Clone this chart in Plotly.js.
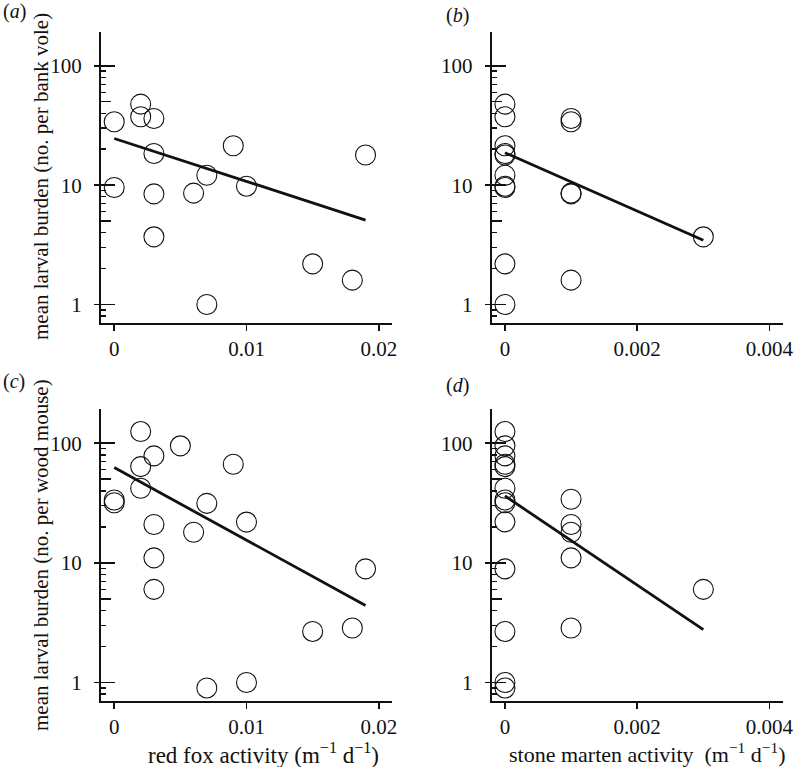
<!DOCTYPE html>
<html>
<head>
<meta charset="utf-8">
<script src="https://cdn.plot.ly/plotly-3.0.1.min.js"></script>
<style>html,body{margin:0;padding:0;background:#fff;}#chart{width:794px;height:767px;}</style>
</head>
<body>
<div id="chart"></div>
<script>
// ---- Data ----
// (a) bank vole burden vs red fox activity
const foxVoleX = [0, 0, 0.002, 0.002, 0.003, 0.003, 0.003, 0.003, 0.006, 0.007, 0.007, 0.009, 0.010, 0.015, 0.018, 0.019];
const foxVoleY = [34, 9.55, 47.7, 37.4, 36.2, 18.4, 8.45, 3.69, 8.57, 12.1, 1.0, 21.4, 9.8, 2.19, 1.6, 17.9];
const foxVoleFitX = [0, 0.019];
const foxVoleFitY = [24.6, 5.1];

// (b) bank vole burden vs stone marten activity
const martenVoleX = [0, 0, 0, 0, 0, 0, 0, 0, 0, 0, 0.001, 0.001, 0.001, 0.001, 0.001, 0.003];
const martenVoleY = [47.7, 37.4, 21.4, 18.4, 17.9, 12.1, 9.55, 9.8, 2.19, 1.0, 36.2, 34, 8.45, 8.57, 1.6, 3.69];
const martenVoleFitX = [0, 0.003];
const martenVoleFitY = [18.7, 3.46];

// (c) wood mouse burden vs red fox activity
const foxMouseX = [0, 0, 0.002, 0.002, 0.002, 0.003, 0.003, 0.003, 0.003, 0.005, 0.006, 0.007, 0.007, 0.009, 0.010, 0.010, 0.015, 0.018, 0.019];
const foxMouseY = [33.5, 31.8, 125, 63.7, 42, 78.3, 20.9, 11.0, 6.0, 95, 18, 31.4, 0.90, 66.7, 21.9, 1.0, 2.67, 2.85, 8.9];
const foxMouseFitX = [0, 0.019];
const foxMouseFitY = [62.5, 4.4];

// (d) wood mouse burden vs stone marten activity
const martenMouseX = [0, 0, 0, 0, 0, 0, 0, 0, 0, 0, 0, 0, 0, 0.001, 0.001, 0.001, 0.001, 0.001, 0.003];
const martenMouseY = [125, 95, 78.3, 66.7, 63.7, 42, 33.5, 31.8, 22, 8.9, 2.67, 1.0, 0.90, 34, 20.9, 18, 11.0, 2.85, 6.0];
const martenMouseFitX = [0, 0.003];
const martenMouseFitY = [36.2, 2.76];

// tick labels
const yTickVals = [1, 10, 100];
const yTickText = ['1', '10', '100'];
const yMinorVals = [0.8, 0.9, 2, 3, 4, 6, 7, 8, 9, 20, 30, 40, 60, 70, 80, 90];
const yMidVals = [5, 50];
const foxTickVals = [0, 0.01, 0.02];
const foxTickText = ['0', '0.01', '0.02'];
const martenTickVals = [0, 0.002, 0.004];
const martenTickText = ['0', '0.002', '0.004'];

const panelLabels = ['(<i>a</i>)', '(<i>b</i>)', '(<i>c</i>)', '(<i>d</i>)'];
const yTitles = ['mean larval burden (no. per bank vole)', 'mean larval burden (no. per wood mouse)'];
const xTitles = ['red fox activity (m<sup>\u22121</sup> d<sup>\u22121</sup>)', 'stone marten activity  (m<sup>\u22121</sup> d<sup>\u22121</sup>)'];

// ---- Styling ----
const FONT = 'Liberation Serif, Times New Roman, serif';
const W = 794, H = 767;
const px = v => v / W;
const py = v => 1 - v / H;

const xDomL = [px(101), px(392)];
const xDomR = [px(491.7), px(782.7)];
const yDomT = [py(323), py(32)];
const yDomB = [py(701), py(409.3)];
const yRange = [Math.log10(0.7), 2.283];
const foxRange = [-0.001, 0.021];
const martenRange = [-0.0002, 0.0042];

function pts(x, y, xa, ya) {
  return {x: x, y: y, xaxis: xa, yaxis: ya, type: 'scatter', mode: 'markers', hoverinfo: 'skip',
    marker: {symbol: 'circle', size: 20, color: 'rgba(0,0,0,0)', line: {color: '#111', width: 1.1}}};
}
function fit(x, y, xa, ya) {
  return {x: x, y: y, xaxis: xa, yaxis: ya, type: 'scatter', mode: 'lines', hoverinfo: 'skip',
    line: {color: '#111', width: 2.8}};
}
function dummy(xa, ya) {
  return {x: [], y: [], xaxis: xa, yaxis: ya, type: 'scatter', mode: 'markers', hoverinfo: 'skip', showlegend: false};
}

const data = [
  fit(foxVoleFitX, foxVoleFitY, 'x', 'y'), pts(foxVoleX, foxVoleY, 'x', 'y'),
  fit(martenVoleFitX, martenVoleFitY, 'x2', 'y2'), pts(martenVoleX, martenVoleY, 'x2', 'y2'),
  fit(foxMouseFitX, foxMouseFitY, 'x3', 'y3'), pts(foxMouseX, foxMouseY, 'x3', 'y3'),
  fit(martenMouseFitX, martenMouseFitY, 'x4', 'y4'), pts(martenMouseX, martenMouseY, 'x4', 'y4'),
  dummy('x', 'y5'), dummy('x2', 'y6'), dummy('x3', 'y7'), dummy('x4', 'y8')
];

function xAxis(dom, range, tv, tt, anchor) {
  return {domain: dom, range: range, anchor: anchor, showline: true, linewidth: 2, linecolor: '#111',
    showgrid: false, zeroline: false, ticks: 'outside', ticklen: 6, tickwidth: 1.5, tickcolor: '#111',
    tickmode: 'array', tickvals: tv, ticktext: tt, ticklabelstandoff: 0,
    tickfont: {family: FONT, size: 21, color: '#111'}, fixedrange: true};
}
function yAxis(dom, anchor) {
  return {domain: dom, type: 'log', range: yRange, anchor: anchor, showline: true, linewidth: 2, linecolor: '#111',
    showgrid: false, zeroline: false, ticks: 'inside', ticklen: 14, tickwidth: 1.5, tickcolor: '#111',
    tickmode: 'array', tickvals: yTickVals, ticktext: yTickText, ticklabelstandoff: 13,
    tickfont: {family: FONT, size: 21, color: '#111'},
    minor: {tickvals: yMinorVals, ticks: 'inside', ticklen: 5, tickwidth: 1.5, tickcolor: '#111', showgrid: false},
    fixedrange: true};
}
function yOver(over, anchor) {
  return {overlaying: over, anchor: anchor, type: 'log', range: yRange, showline: false, showgrid: false,
    zeroline: false, ticks: 'outside', ticklen: 6, tickwidth: 1.5, tickcolor: '#111',
    tickmode: 'array', tickvals: yTickVals, showticklabels: false,
    minor: {tickvals: yMidVals, ticks: 'inside', ticklen: 10, tickwidth: 1.5, tickcolor: '#111', showgrid: false},
    fixedrange: true};
}

const ann = [];
function addAnn(text, x, y, size, opts) {
  ann.push(Object.assign({text: text, x: x, y: y, xref: 'paper', yref: 'paper', showarrow: false,
    xanchor: 'center', yanchor: 'middle', font: {family: FONT, size: size, color: '#111'}}, opts || {}));
}
addAnn(panelLabels[0], px(1), py(12), 20, {xanchor: 'left'});
addAnn(panelLabels[1], px(444), py(15), 20, {xanchor: 'left'});
addAnn(panelLabels[2], px(1), py(381), 20, {xanchor: 'left'});
addAnn(panelLabels[3], px(444), py(385), 20, {xanchor: 'left'});
addAnn(yTitles[0], px(41), py(177), 21, {textangle: -90});
addAnn(yTitles[1], px(41), py(555), 21, {textangle: -90});
addAnn(xTitles[0], px(263), py(753), 23);
addAnn(xTitles[1], px(647), py(753), 22);

const layout = {
  width: W, height: H, margin: {l: 0, r: 0, t: 0, b: 0},
  paper_bgcolor: '#fff', plot_bgcolor: 'rgba(0,0,0,0)', showlegend: false,
  font: {family: FONT, size: 21, color: '#111'},
  xaxis: xAxis(xDomL, foxRange, foxTickVals, foxTickText, 'y'),
  xaxis2: xAxis(xDomR, martenRange, martenTickVals, martenTickText, 'y2'),
  xaxis3: xAxis(xDomL, foxRange, foxTickVals, foxTickText, 'y3'),
  xaxis4: xAxis(xDomR, martenRange, martenTickVals, martenTickText, 'y4'),
  yaxis: yAxis(yDomT, 'x'),
  yaxis2: yAxis(yDomT, 'x2'),
  yaxis3: yAxis(yDomB, 'x3'),
  yaxis4: yAxis(yDomB, 'x4'),
  yaxis5: yOver('y', 'x'),
  yaxis6: yOver('y2', 'x2'),
  yaxis7: yOver('y3', 'x3'),
  yaxis8: yOver('y4', 'x4'),
  annotations: ann
};

Plotly.newPlot('chart', data, layout, {staticPlot: true, displayModeBar: false});
</script>
</body>
</html>
